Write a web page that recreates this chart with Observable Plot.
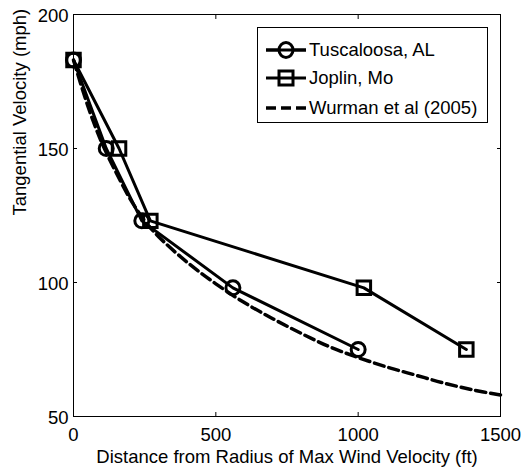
<!DOCTYPE html>
<html>
<head>
<meta charset="utf-8">
<script src="https://cdn.jsdelivr.net/npm/d3@7"></script>
<script src="https://cdn.jsdelivr.net/npm/@observablehq/plot@0.6"></script>
<style>
  html, body { margin: 0; padding: 0; background: #fff; }
  #wrap { position: relative; width: 523px; height: 472px; font-family: "Liberation Sans", Arial, sans-serif; }
  #legend { position: absolute; left: 257px; top: 27px; width: 229px; height: 94px; border: 1px solid #000; background: #fff; box-sizing: content-box; }
  #legend svg { display: block; }
</style>
</head>
<body>
<div id="wrap"></div>
<script>
// ---- data ----
const tuscX = [0, 115, 240, 560, 1000];
const tuscY = [183, 150, 123, 98, 75];
const joplinX = [0, 160, 270, 1020, 1380];
const joplinY = [183, 150, 123, 98, 75];
const wurmanX = [0, 50, 100, 150, 200, 250, 300, 400, 500, 600, 700, 800, 900, 1000, 1100, 1200, 1300, 1400, 1500];
const wurmanY = [183, 166, 152, 141, 131, 123, 117, 107.5, 99.5, 92.5, 86.5, 81, 76, 72, 68.5, 65.5, 62.5, 60, 58];
const xTicks = [0, 500, 1000, 1500];
const yTicks = [50, 100, 150, 200];
const seriesNames = ["Tuscaloosa, AL", "Joplin, Mo", "Wurman et al (2005)"];
const xLabel = "Distance from Radius of Max Wind Velocity (ft)";
const yLabel = "Tangential Velocity (mph)";

const tusc = tuscX.map((x, i) => ({x, y: tuscY[i]}));
const joplin = joplinX.map((x, i) => ({x, y: joplinY[i]}));
const wurman = wurmanX.map((x, i) => ({x, y: wurmanY[i]}));

const font = "Liberation Sans, Arial, sans-serif";
const fmt = d => String(d);

const chart = Plot.plot({
  width: 523,
  height: 472,
  marginLeft: 73,
  marginRight: 23,
  marginTop: 14,
  marginBottom: 56,
  style: {fontFamily: font, fontSize: "18px", background: "#fff", color: "#000"},
  x: {domain: [0, 1500], label: null},
  y: {domain: [50, 200], label: null},
  marks: [
    Plot.frame({stroke: "#000", strokeWidth: 1}),
    // inward ticks on all four sides
    Plot.axisX(xTicks, {anchor: "bottom", tickSize: -4, text: null, label: null}),
    Plot.axisX(xTicks, {anchor: "top", tickSize: -4, text: null, label: null}),
    Plot.axisY(yTicks, {anchor: "left", tickSize: -4, text: null, label: null}),
    Plot.axisY(yTicks, {anchor: "right", tickSize: -4, text: null, label: null}),
    // tick labels
    Plot.axisX(xTicks, {anchor: "bottom", tickSize: 0, tickPadding: 11, label: null, fontSize: 18.5, tickFormat: fmt, fill: "#000"}),
    Plot.axisY(yTicks, {anchor: "left", tickSize: 0, tickPadding: 5, dy: 2, label: null, fontSize: 18.5, tickFormat: fmt, fill: "#000"}),
    // axis titles
    Plot.text([xLabel], {frameAnchor: "bottom", dy: 46, fontSize: 18.5, fill: "#000"}),
    Plot.text([yLabel], {frameAnchor: "left", dx: -53, rotate: -90, fontSize: 18.5, fill: "#000"}),
    // data
    Plot.line(wurman, {x: "x", y: "y", stroke: "#000", strokeWidth: 3.5, strokeDasharray: "10,5", curve: "catmull-rom"}),
    Plot.line(tusc, {x: "x", y: "y", stroke: "#000", strokeWidth: 3}),
    Plot.line(joplin, {x: "x", y: "y", stroke: "#000", strokeWidth: 3}),
    Plot.dot(tusc, {x: "x", y: "y", symbol: "circle", r: 7, stroke: "#000", strokeWidth: 3, fill: "none"}),
    Plot.dot(joplin, {x: "x", y: "y", symbol: "square", r: 7.6, stroke: "#000", strokeWidth: 3, fill: "none"})
  ]
});

const wrap = document.getElementById("wrap");
wrap.appendChild(chart);

// legend (inside the plot area, top-right)
const leg = document.createElement("div");
leg.id = "legend";
const rows = [22, 50, 80];
let s = `<svg width="229" height="94" xmlns="http://www.w3.org/2000/svg">`;
// Tuscaloosa
s += `<line x1="8" x2="48" y1="${rows[0]}" y2="${rows[0]}" stroke="#000" stroke-width="3"/>`;
s += `<ellipse cx="28" cy="${rows[0]}" rx="7" ry="7.5" fill="#fff" stroke="#000" stroke-width="3"/>`;
s += `<line x1="8" x2="48" y1="${rows[0]}" y2="${rows[0]}" stroke="#000" stroke-width="3"/>`;
// Joplin
s += `<line x1="8" x2="48" y1="${rows[1]}" y2="${rows[1]}" stroke="#000" stroke-width="3"/>`;
s += `<rect x="21" y="${rows[1] - 7}" width="14" height="14" fill="none" stroke="#000" stroke-width="3"/>`;
// Wurman
s += `<line x1="8" x2="48" y1="${rows[2]}" y2="${rows[2]}" stroke="#000" stroke-width="3.5" stroke-dasharray="10,5"/>`;
seriesNames.forEach((n, i) => {
  s += `<text x="51" y="${rows[i]}" dy="0.35em" font-family="${font}" font-size="18.5" fill="#000">${n}</text>`;
});
s += `</svg>`;
leg.innerHTML = s;
wrap.appendChild(leg);
</script>
</body>
</html>
